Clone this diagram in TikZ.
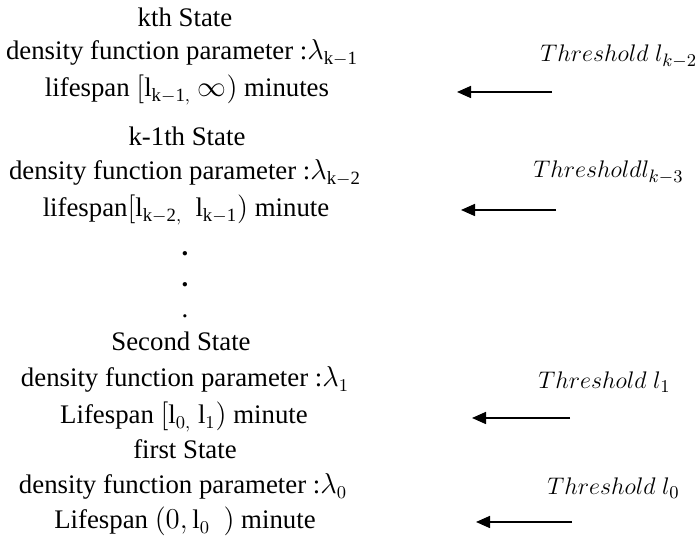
\documentclass[tikz,border=0pt]{standalone}
\usepackage{fontspec}
\setmainfont{Liberation Serif}
\usetikzlibrary{arrows.meta}
\begin{document}
\begin{tikzpicture}[x=0.5pt,y=-0.5pt,
  txt/.style={font=\fontsize{13.4}{16}\selectfont, inner sep=0pt, anchor=base},
  thr/.style={font=\fontsize{13.2}{16}\selectfont, inner sep=0pt, anchor=base west},
  dotnode/.style={font=\fontsize{13.4}{16}\selectfont\bfseries, inner sep=0pt, anchor=base},
  arr/.style={line width=0.8pt, -{Triangle[length=7pt,width=6pt]}}]
\useasboundingbox (0,0) rectangle (698,539);
% kth state
\node[txt] (s1) at (185,27) {kth State};
\node[txt] (s2) at (182,60) {density function parameter :$\lambda_{\mathrm{k-1}}$};
\node[txt] (s3) at (187,97) {lifespan $\Big[\mathrm{l}_{\mathrm{k-1,}}\ \infty)$ minutes};
% k-1th state
\node[txt] (t1) at (187,146) {k-1th State};
\node[txt] (t2) at (185,180) {density function parameter :$\lambda_{\mathrm{k-2}}$};
\node[txt] (t3) at (186,217) {lifespan$\Big[\mathrm{l}_{\mathrm{k-2,}}\ \ \mathrm{l}_{\mathrm{k-1}})$ minute};
% dots
\node[dotnode] (d1) at (185,256) {.};
\node[dotnode] (d2) at (185,287) {.};
\node[txt] (d3) at (185,318) {.};
% second state
\node[txt] (u1) at (181,351) {Second State};
\node[txt] (u2) at (185,387) {density function parameter :$\lambda_{1}$};
\node[txt] (u3) at (184,424) {Lifespan $\Big[\mathrm{l}_{0,}\ \mathrm{l}_{1})$ minute};
% first state
\node[txt] (v1) at (185,459) {first State};
\node[txt] (v2) at (183,494) {density function parameter :$\lambda_{0}$};
\node[txt] (v3) at (185,529) {Lifespan $(0,\mathrm{l}_{0}\ \ )$ minute};
% thresholds
\node[thr] (h1) at (540,62) {$Threshold\ l_{k-2}$};
\node[thr] (h2) at (533,178) {$Threshold l_{k-3}$};
\node[thr] (h3) at (538,389) {$Threshold\ l_{1}$};
\node[thr] (h4) at (547,495) {$Threshold\ l_{0}$};
% arrows
\coordinate (a1s) at (552,92);  \coordinate (a1e) at (457,92);
\coordinate (a2s) at (556,210); \coordinate (a2e) at (461,210);
\coordinate (a3s) at (570,418); \coordinate (a3e) at (472,418);
\coordinate (a4s) at (572,522); \coordinate (a4e) at (476,522);
\draw[arr] (a1s) -- (a1e);
\draw[arr] (a2s) -- (a2e);
\draw[arr] (a3s) -- (a3e);
\draw[arr] (a4s) -- (a4e);
\end{tikzpicture}
\end{document}
